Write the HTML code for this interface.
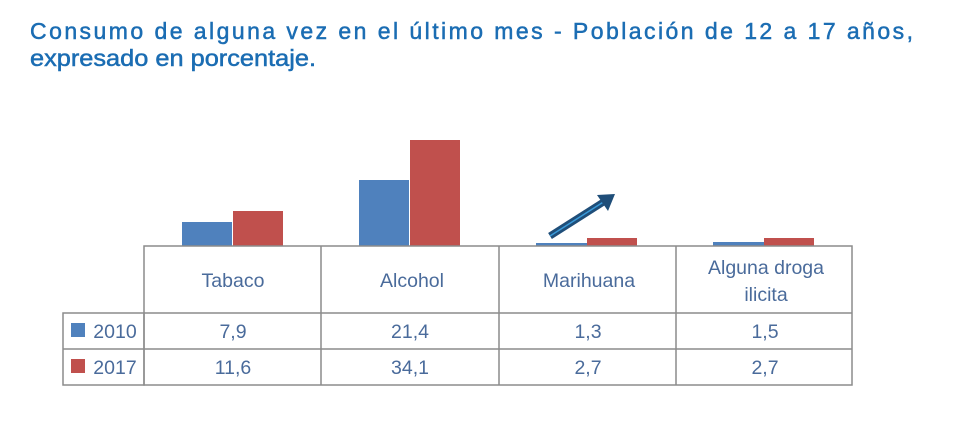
<!DOCTYPE html>
<html><head><meta charset="utf-8"><style>html,body{margin:0;padding:0;background:#fff}svg{display:block}</style></head>
<body>
<svg width="976" height="428" viewBox="0 0 976 428" xmlns="http://www.w3.org/2000/svg" font-family="Liberation Sans, sans-serif">
<rect width="976" height="428" fill="#fff"/>
<g fill="#1b6db3" stroke="#1b6db3" stroke-width="0.5">
<text x="30" y="39" font-size="23" textLength="883" lengthAdjust="spacing">Consumo de alguna vez en el último mes - Población de 12 a 17 años,</text>
<text x="30" y="66" font-size="23" textLength="286" lengthAdjust="spacingAndGlyphs">expresado en porcentaje.</text>
</g>
<!-- bars -->
<rect x="182" y="222" width="50" height="24" fill="#4f81bd"/>
<rect x="233" y="211" width="50" height="35" fill="#c0504d"/>
<rect x="359" y="180" width="50" height="66" fill="#4f81bd"/>
<rect x="410" y="140" width="50" height="106" fill="#c0504d"/>
<rect x="536" y="243" width="51" height="3" fill="#4f81bd"/>
<rect x="587" y="238" width="50" height="8" fill="#c0504d"/>
<rect x="713" y="242" width="51" height="4" fill="#4f81bd"/>
<rect x="764" y="238" width="50" height="8" fill="#c0504d"/>
<!-- arrow -->
<line x1="550" y1="236" x2="605" y2="201" stroke="#1f4e79" stroke-width="7"/>
<line x1="550" y1="236" x2="605" y2="201" stroke="#3a9ad9" stroke-width="1.5"/>
<polygon points="615,194 597,195 608,211" fill="#1f4e79"/>
<!-- table -->
<g stroke="#8c8c8c" stroke-width="1.5" fill="none">
<rect x="144" y="246" width="708" height="139"/>
<rect x="63" y="313" width="81" height="72"/>
<line x1="63" y1="349" x2="852" y2="349"/>
<line x1="144" y1="313" x2="852" y2="313"/>
<line x1="321" y1="246" x2="321" y2="385"/>
<line x1="499" y1="246" x2="499" y2="385"/>
<line x1="676" y1="246" x2="676" y2="385"/>
</g>
<g font-size="19.5" fill="#4a6b9b" text-anchor="middle">
<text x="233" y="287">Tabaco</text>
<text x="412" y="287">Alcohol</text>
<text x="589" y="287">Marihuana</text>
<text x="766" y="274">Alguna droga</text>
<text x="766" y="301">ilicita</text>
<text x="233" y="338">7,9</text>
<text x="410" y="338">21,4</text>
<text x="588" y="338">1,3</text>
<text x="765" y="338">1,5</text>
<text x="233" y="374">11,6</text>
<text x="410" y="374">34,1</text>
<text x="588" y="374">2,7</text>
<text x="765" y="374">2,7</text>
<text x="115" y="338">2010</text>
<text x="115" y="374">2017</text>
</g>
<rect x="71" y="323" width="14" height="14" fill="#4f81bd"/>
<rect x="71" y="359" width="14" height="14" fill="#c0504d"/>
</svg>
</body></html>
